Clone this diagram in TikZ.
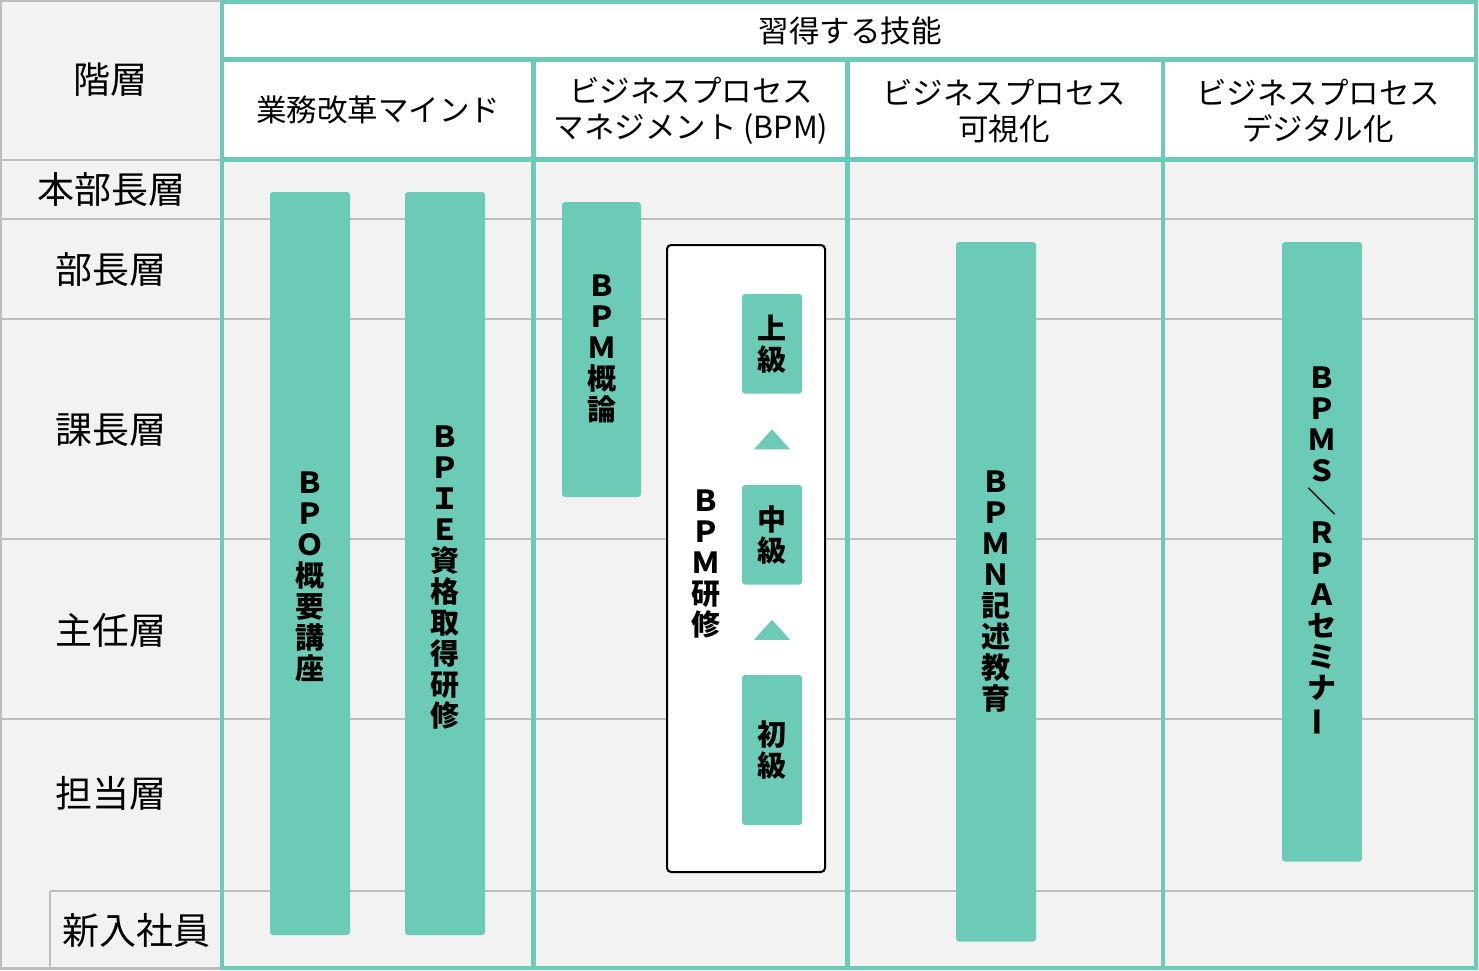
\documentclass[tikz,border=0pt]{standalone}
\usepackage{fontspec}
\usepackage{graphicx}
\setmainfont{Noto Sans CJK JP}
\usetikzlibrary{calc}
\definecolor{tealc}{HTML}{6CCBB6}
\definecolor{bgc}{HTML}{F2F2F2}
\definecolor{gridc}{HTML}{BDBDBD}
\begin{document}
\begin{tikzpicture}[x=1pt,y=-1pt,
  bar/.style={fill=tealc, draw=none, rounded corners=3pt, inner sep=0pt},
  vlabel/.style={font=\bfseries\fontsize{29}{31}\selectfont, align=center, inner sep=0pt},
  rowlabel/.style={font=\fontsize{37}{40}\selectfont, inner sep=0pt},
  head/.style={font=\fontsize{30.5}{36}\selectfont, align=center, inner sep=0pt},
  gline/.style={draw=gridc, line width=2.5pt},
  tline/.style={draw=tealc, line width=4.5pt},
  tri/.style={fill=tealc}]
\useasboundingbox (0,0) rectangle (1479,970);
\fill[bgc] (0,0) rectangle (1479,970);
\fill[white] (222,2) rectangle (1476,159.5);
% gray grid
\draw[gline] (1,0) -- (1,970);
\draw[gline] (0,1) -- (222,1);
\draw[gline] (0,968.5) -- (222,968.5);
\draw[gline] (0,160) -- (222,160);
\foreach \yy in {219,319,539,719}{\draw[gline] (0,\yy) -- (1476,\yy);}
\draw[gline] (50,891) -- (1476,891);
\draw[gline] (50,891) -- (50,970);
% teal grid
\draw[tline] (222,2) rectangle (1476,968);
\draw[tline] (222,59.5) -- (1476,59.5);
\draw[tline] (222,159.5) -- (1476,159.5);
\foreach \xx in {533.5,847.5,1163}{\draw[tline] (\xx,59.5) -- (\xx,968);}
% headers
\node[head] (hskill) at (850,31) {習得する技能};
\node[head] (h1) at (378,110) {業務改革マインド};
\node[head] (h2) at (691,111) {ビジネスプロセス\\マネジメント (BPM)};
\node[head] (h3) at (1004,111) {ビジネスプロセス\\可視化};
\node[head] (h4) at (1318,111) {ビジネスプロセス\\デジタル化};
% row labels
\node[rowlabel] (r0) at (110,80) {階層};
\node[rowlabel] (r1) at (111,190) {本部長層};
\node[rowlabel] (r2) at (111,270) {部長層};
\node[rowlabel] (r3) at (111,430) {課長層};
\node[rowlabel] (r4) at (111,630) {主任層};
\node[rowlabel] (r5) at (111,793) {担当層};
\node[rowlabel] (r6) at (136,930) {新入社員};
% bars
\node[bar, minimum width=80pt, minimum height=743pt] (bpo) at (310,563.5) {};
\node[vlabel] (bpot) at (310,577) {Ｂ\\Ｐ\\Ｏ\\概\\要\\講\\座};
\node[bar, minimum width=80pt, minimum height=743pt] (bpie) at (445,563.5) {};
\node[vlabel] (bpiet) at (445,577.5) {Ｂ\\Ｐ\\Ｉ\\Ｅ\\資\\格\\取\\得\\研\\修};
\node[bar, minimum width=79pt, minimum height=295pt] (bpmg) at (601.5,349.5) {};
\node[vlabel] (bpmgt) at (602,349) {Ｂ\\Ｐ\\Ｍ\\概\\論};
\node[draw=black, line width=2pt, fill=white, rounded corners=4pt, minimum width=158pt, minimum height=627pt, inner sep=0pt] (ken) at (746,558.5) {};
\node[vlabel] (kent) at (706,564) {Ｂ\\Ｐ\\Ｍ\\研\\修};
\node[bar, minimum width=60pt, minimum height=99.5pt] (jo) at (772,343.75) {};
\node[vlabel] (jot) at (jo) {上\\級};
\node[bar, minimum width=60pt, minimum height=99.5pt] (chu) at (772,534.75) {};
\node[vlabel] (chut) at (chu) {中\\級};
\node[bar, minimum width=60pt, minimum height=150pt] (sho) at (772,750) {};
\node[vlabel] (shot) at (sho) {初\\級};
\fill[tri] ($(jo.south)!0.5!(chu.north)$) +(-18,10) -- +(18,10) -- +(0,-10) -- cycle;
\fill[tri] ($(chu.south)!0.5!(sho.north)$) +(-18,10) -- +(18,10) -- +(0,-10) -- cycle;
\node[bar, minimum width=80pt, minimum height=699.5pt] (bpmn) at (996,591.75) {};
\node[vlabel] (bpmnt) at (bpmn) {Ｂ\\Ｐ\\Ｍ\\Ｎ\\記\\述\\教\\育};
\node[bar, minimum width=80pt, minimum height=619.5pt] (bpms) at (1322,551.75) {};
\node[vlabel] (bpmst) at (bpms) {Ｂ\\Ｐ\\Ｍ\\Ｓ\\＼\\Ｒ\\Ｐ\\Ａ\\セ\\ミ\\ナ\\\rotatebox[origin=c]{90}{ー}};
\end{tikzpicture}
\end{document}
